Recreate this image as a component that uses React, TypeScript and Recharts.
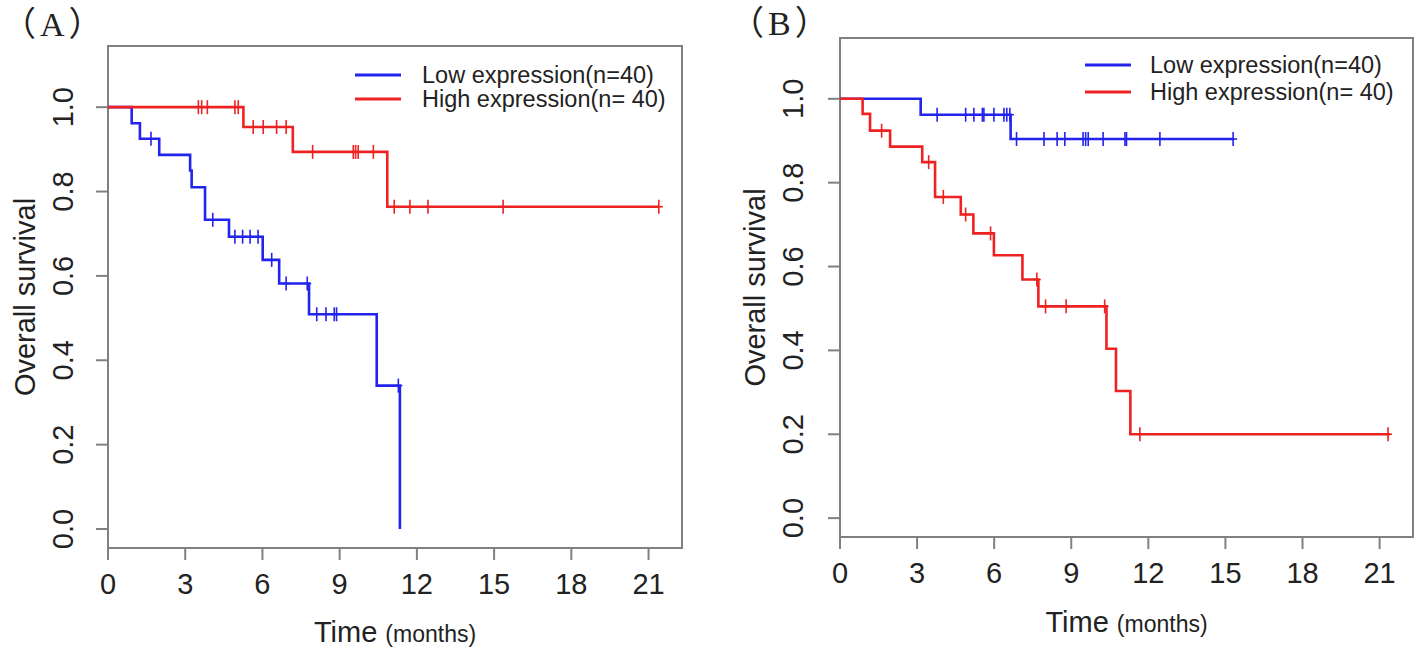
import React from "react";
import { ComposedChart, Line, Scatter, XAxis, YAxis, ReferenceArea } from "recharts";

// Panel A - step times (months) and survival after each step
const aLowTimes = [0, 0.92, 1.24, 1.99, 3.19, 3.25, 3.77, 4.7, 6.01, 6.65, 7.81, 10.44, 11.34];
const aLowSurv = [1, 0.962, 0.925, 0.887, 0.85, 0.81, 0.733, 0.693, 0.638, 0.582, 0.509, 0.34, 0];
const aLowCensor = [1.67, 4.07, 4.93, 5.23, 5.52, 5.83, 6.36, 6.92, 7.74, 8.11, 8.47, 8.79, 8.88, 11.28];
const aLowEnd = 11.34;

const aHighTimes = [0, 5.26, 7.18, 10.85];
const aHighSurv = [1, 0.953, 0.894, 0.764];
const aHighCensor = [3.51, 3.64, 3.86, 4.93, 5.06, 5.64, 6.03, 6.55, 6.92, 7.95, 9.53, 9.62, 9.72, 10.31, 11.12, 11.73, 12.43, 15.35, 21.4];
const aHighEnd = 21.4;

// Panel B
const bLowTimes = [0, 3.14, 6.64];
const bLowSurv = [1, 0.962, 0.904];
const bLowCensor = [3.78, 4.89, 5.21, 5.54, 5.6, 5.99, 6.38, 6.49, 6.61, 6.87, 7.94, 8.45, 8.75, 9.46, 9.56, 9.66, 10.24, 11.09, 11.15, 12.45, 15.3];
const bLowEnd = 15.3;

const bHighTimes = [0, 0.88, 1.17, 1.95, 3.2, 3.7, 4.7, 5.19, 5.99, 7.1, 7.72, 10.37, 10.74, 11.3];
const bHighSurv = [1, 0.964, 0.924, 0.886, 0.849, 0.766, 0.724, 0.679, 0.627, 0.569, 0.505, 0.404, 0.303, 0.2];
const bHighCensor = [1.62, 3.45, 4.02, 4.89, 5.86, 7.66, 8.0, 8.8, 10.3, 11.67, 21.33];
const bHighEnd = 21.4;

const xTicks = [0, 3, 6, 9, 12, 15, 18, 21];
const yTicks = [0, 0.2, 0.4, 0.6, 0.8, 1.0];
const lowLabel = "Low expression(n=40)";
const highLabel = "High expression(n= 40)";

const BLUE = "#2323ee";
const RED = "#ee2222";
const AXIS = "#808080";
const TEXT = "#222";
const FONT = "'Liberation Sans', Arial, sans-serif";

const X_MAX = 22.3;
const Y_MIN = -0.045;
const Y_MAX = 1.145;

function steps(times: number[], surv: number[], end: number) {
  const pts = times.map((t, i) => ({ t, s: surv[i] }));
  if (end > times[times.length - 1]) pts.push({ t: end, s: surv[surv.length - 1] });
  return pts;
}

function censorPoints(times: number[], surv: number[], censor: number[]) {
  return censor.map((c) => {
    let i = 0;
    while (i + 1 < times.length && times[i + 1] <= c) i++;
    return { t: c, s: surv[i] };
  });
}

const Cross = (props: any) => {
  const { cx, cy, fill } = props;
  if (cx == null || cy == null) return null;
  return (
    <g stroke={fill} strokeWidth={1.6}>
      <line x1={cx} x2={cx} y1={cy - 7} y2={cy + 7} />
      <line x1={cx - 4} x2={cx + 4} y1={cy} y2={cy} />
    </g>
  );
};

function Panel({
  left, width, top, yAxisW, xAxisH, marginRight, yTickOffset, yTitleX, xTitleDy,
  low, high,
}: any) {
  const YTick = ({ x, y, payload }: any) => {
    const bx = x - yTickOffset;
    return (
      <text x={bx} y={y} transform={`rotate(-90 ${bx} ${y})`} textAnchor="middle"
        fontSize={29} fill={TEXT} fontFamily={FONT}>
        {payload.value.toFixed(1)}
      </text>
    );
  };
  return (
    <div style={{ position: "absolute", left, top: 0 }}>
      <ComposedChart width={width} height={653}
        margin={{ top, right: marginRight, left: 0, bottom: 0 }}>
        <XAxis type="number" dataKey="t" domain={[0, X_MAX]} ticks={xTicks} allowDataOverflow
          height={xAxisH} axisLine={false} tickLine={{ stroke: AXIS, strokeWidth: 2 }} tickSize={12}
          tickMargin={13} tick={{ fontSize: 29, fill: TEXT, fontFamily: FONT }}
          label={{
            content: ({ viewBox }: any) => (
              <text x={viewBox.x + viewBox.width / 2} y={viewBox.y + xTitleDy} textAnchor="middle"
                fill={TEXT} fontFamily={FONT} fontSize={29}>
                Time <tspan fontSize={23}>(months)</tspan>
              </text>
            ),
          }} />
        <YAxis type="number" dataKey="s" domain={[Y_MIN, Y_MAX]} ticks={yTicks} allowDataOverflow
          width={yAxisW} axisLine={false} tickLine={{ stroke: AXIS, strokeWidth: 2 }} tickSize={12}
          tickMargin={0} tick={<YTick />}
          label={{
            content: ({ viewBox }: any) => {
              const cy = viewBox.y + viewBox.height / 2;
              return (
                <text x={yTitleX} y={cy} transform={`rotate(-90 ${yTitleX} ${cy})`} textAnchor="middle"
                  fill={TEXT} fontFamily={FONT} fontSize={29}>
                  Overall survival
                </text>
              );
            },
          }} />
        <ReferenceArea x1={0} x2={X_MAX} y1={Y_MIN} y2={Y_MAX} fill="none" stroke={AXIS}
          strokeWidth={2} ifOverflow="visible" />
        <Line data={steps(low.times, low.surv, low.end)} dataKey="s" type="stepAfter" stroke={BLUE}
          strokeWidth={2.6} dot={false} isAnimationActive={false} />
        <Line data={steps(high.times, high.surv, high.end)} dataKey="s" type="stepAfter" stroke={RED}
          strokeWidth={2.6} dot={false} isAnimationActive={false} />
        <Scatter data={censorPoints(low.times, low.surv, low.censor)} dataKey="s" fill={BLUE}
          shape={<Cross />} isAnimationActive={false} />
        <Scatter data={censorPoints(high.times, high.surv, high.censor)} dataKey="s" fill={RED}
          shape={<Cross />} isAnimationActive={false} />
      </ComposedChart>
    </div>
  );
}

function LegendBox({ x, yLow, yHigh, textX }: any) {
  return (
    <g fontFamily={FONT} fontSize={23.5} fill={TEXT}>
      <line x1={x} x2={x + 46} y1={yLow} y2={yLow} stroke={BLUE} strokeWidth={3} />
      <line x1={x} x2={x + 46} y1={yHigh} y2={yHigh} stroke={RED} strokeWidth={3} />
      <text x={textX} y={yLow + 8}>{lowLabel}</text>
      <text x={textX} y={yHigh + 8}>{highLabel}</text>
    </g>
  );
}

export default function App() {
  return (
    <div style={{ position: "absolute", left: 0, top: 0, width: 1418, height: 653, background: "#fff" }}>
      <Panel left={0} width={700} top={46} yAxisW={108} xAxisH={105} marginRight={18}
        yTickOffset={22.5} yTitleX={35} xTitleDy={94}
        low={{ times: aLowTimes, surv: aLowSurv, censor: aLowCensor, end: aLowEnd }}
        high={{ times: aHighTimes, surv: aHighSurv, censor: aHighCensor, end: aHighEnd }} />
      <Panel left={720} width={698} top={38} yAxisW={120} xAxisH={116} marginRight={5}
        yTickOffset={24.5} yTitleX={45} xTitleDy={95}
        low={{ times: bLowTimes, surv: bLowSurv, censor: bLowCensor, end: bLowEnd }}
        high={{ times: bHighTimes, surv: bHighSurv, censor: bHighCensor, end: bHighEnd }} />
      <svg width={1418} height={653} style={{ position: "absolute", left: 0, top: 0, pointerEvents: "none" }}>
        <text x={2} y={36} fontSize={34} fill={TEXT} fontFamily="'Liberation Serif', 'Noto Sans CJK SC', serif"
          letterSpacing={4}>（A）</text>
        <text x={730} y={35} fontSize={34} fill={TEXT} fontFamily="'Liberation Serif', 'Noto Sans CJK SC', serif"
          letterSpacing={4}>（B）</text>
        <LegendBox x={355} yLow={75} yHigh={99} textX={422} />
        <LegendBox x={1085} yLow={65} yHigh={92} textX={1150} />
      </svg>
    </div>
  );
}
